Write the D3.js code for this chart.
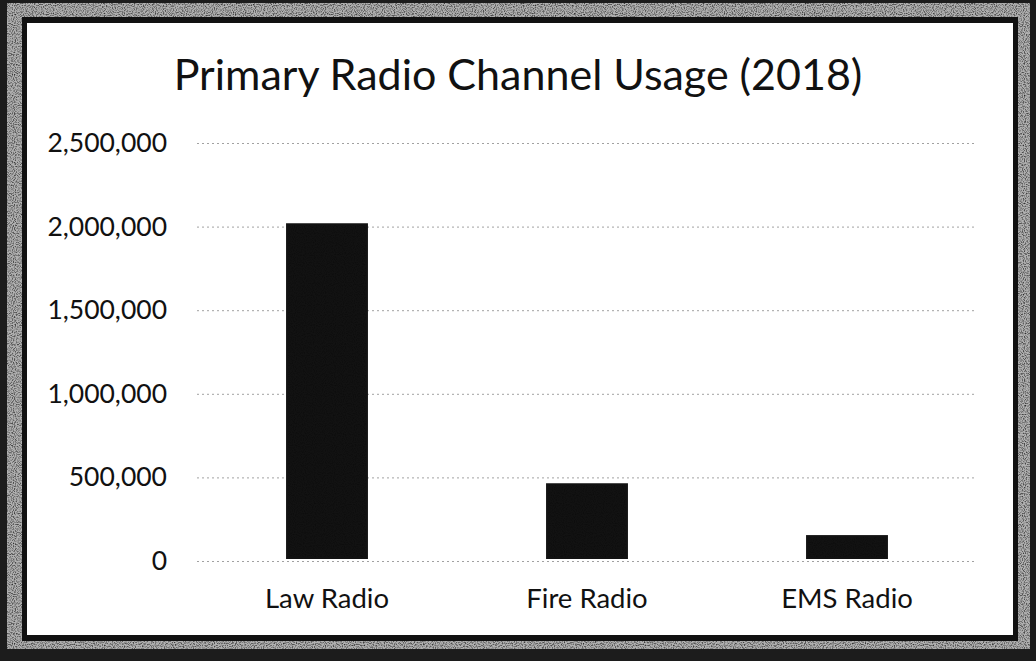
<!DOCTYPE html>
<html><head><meta charset="utf-8">
<script src="https://cdn.jsdelivr.net/npm/d3@7"></script>
<style>html,body{margin:0;padding:0;background:#fff;}svg{display:block;}</style>
</head><body>
<svg id="c" width="1036" height="661"></svg>
<script>
const categories = ["Law Radio", "Fire Radio", "EMS Radio"];
const values = [2020000, 465000, 155000];
const yTicks = [0, 500000, 1000000, 1500000, 2000000, 2500000];
const title = "Primary Radio Channel Usage (2018)";

const W = 1036, H = 661;
const svg = d3.select("#c");
const defs = svg.append("defs");
const f = defs.append("filter").attr("id","speck").attr("x",0).attr("y",0).attr("width","100%").attr("height","100%");
f.append("feTurbulence").attr("type","fractalNoise").attr("baseFrequency",0.9).attr("numOctaves",1).attr("seed",3).attr("result","n");
f.append("feColorMatrix").attr("in","n").attr("type","matrix")
  .attr("values","0 0 0 0 0  0 0 0 0 0  0 0 0 0 0  0 0 0 -2.2 1.25").attr("result","a");
f.append("feComposite").attr("in","a").attr("in2","SourceGraphic").attr("operator","in");

// frame
svg.append("rect").attr("width",W).attr("height",H).attr("fill","#1c1c1c");
svg.append("rect").attr("x",7).attr("y",3).attr("width",W-13).attr("height",H-15).attr("fill","#b0b0b0");
svg.append("rect").attr("x",7).attr("y",3).attr("width",W-13).attr("height",H-15).attr("fill","#000").attr("filter","url(#speck)").attr("opacity",0.85);
svg.append("rect").attr("x",22).attr("y",17).attr("width",996).attr("height",624).attr("fill","#111");
svg.append("rect").attr("x",27).attr("y",23).attr("width",986).attr("height",612).attr("fill","#fff");

const x = d3.scaleBand().domain(categories).range([197, 977]).paddingInner(0.685).paddingOuter(0.3425);
const y = d3.scaleLinear().domain([0, 2500000]).range([561, 143]);

const font = "Lato, 'Open Sans', sans-serif";
svg.append("text").attr("x", 518).attr("y", 90).attr("text-anchor","middle")
  .attr("font-family", font).attr("font-size", 43).attr("fill","#111").text(title);

// gridlines
const yAxis = d3.axisLeft(y).tickValues(yTicks).tickSize(-(977-197)).tickFormat(d3.format(","));
const ga = svg.append("g").attr("transform","translate(197,0)").call(yAxis);
ga.select(".domain").remove();
ga.selectAll(".tick line").attr("stroke","#8a8a8a").attr("stroke-width",1).attr("stroke-dasharray","2,3").attr("opacity",0.8);
ga.selectAll(".tick text").attr("x",-30).attr("font-family",font).attr("font-size",26.5).attr("fill","#111");

// bars
svg.append("g").selectAll("rect").data(values).join("rect")
  .attr("x",(d,i)=>x(categories[i])).attr("width",x.bandwidth())
  .attr("y",d=>y(d)).attr("height",d=>y(0)-y(d)-2).attr("fill","#121212");
svg.append("g").selectAll("rect").data(values).join("rect")
  .attr("x",(d,i)=>x(categories[i])+2).attr("width",x.bandwidth()-4)
  .attr("y",d=>y(d)+2).attr("height",d=>Math.max(0,y(0)-y(d)-6)).attr("fill","#555").attr("filter","url(#speck)").attr("opacity",0.35);

// x labels
const xa = svg.append("g").attr("transform","translate(0,561)").call(d3.axisBottom(x).tickSize(0).tickPadding(0));
xa.select(".domain").remove();
xa.selectAll(".tick text").attr("dy",0).attr("y",47).attr("font-family",font).attr("font-size",27.5).attr("fill","#111");
</script>
</body></html>
